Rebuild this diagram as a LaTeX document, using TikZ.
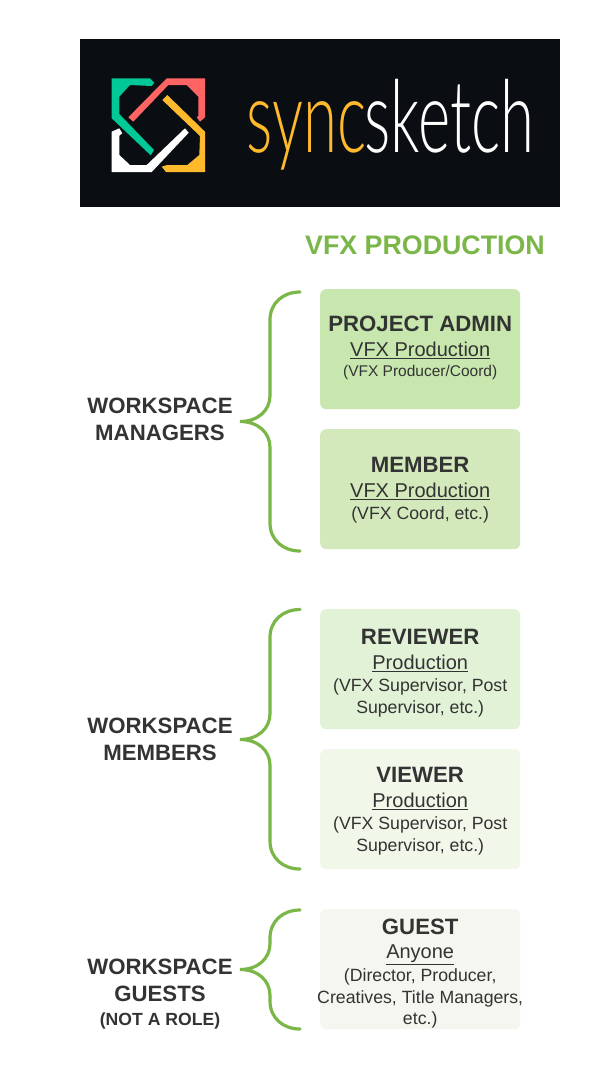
\documentclass[tikz,border=0pt]{standalone}
\usepackage{fontspec}
\usetikzlibrary{calc}
\setmainfont{Liberation Sans}
\newfontfamily\logofont{Lato Light}
\definecolor{ink}{HTML}{333333}
\definecolor{bracecol}{HTML}{7AB648}
\definecolor{logobg}{HTML}{0A0E12}
\definecolor{lgreen}{HTML}{00C896}
\definecolor{lred}{HTML}{FF6464}
\definecolor{lyellow}{HTML}{FFB92D}
\definecolor{boxa}{HTML}{C8E7AE}
\definecolor{boxb}{HTML}{D3E9BC}
\definecolor{boxc}{HTML}{E2F2D6}
\definecolor{boxd}{HTML}{F1F8EA}
\definecolor{boxe}{HTML}{F6F6F0}
\newcommand{\rttl}[1]{{\fontsize{22.2}{23}\selectfont\bfseries #1}}
\newcommand{\rsub}[1]{{\fontsize{20}{23}\selectfont\underline{#1}}}
\newcommand{\rdet}[2][17.7]{{\fontsize{#1}{23}\selectfont #2}}
\tikzset{
  rolebox/.style={rounded corners=6pt,minimum width=200pt,minimum height=120pt,inner sep=0pt,align=center,text=ink,anchor=north west,font=\fontsize{17.7}{23}\selectfont},
  grouplabel/.style={align=center,text=ink,anchor=base,font=\fontsize{22.2}{27}\selectfont\bfseries},
  bracket/.style={draw=bracecol,line width=3.2pt,line cap=round},
  logotext/.style={inner sep=0pt,anchor=base west,xscale=1.165,yscale=1.9,font=\fontsize{53}{53}\logofont},
}
\newcommand{\bracketpath}[3]{%
  \draw[bracket] (#1) .. controls ($(#1)+(-17,0)$) and ($(#1)+(-30,11)$) .. ($(#1)+(-30,28)$)
   -- ($(#2)+(30,-26)$) .. controls ($(#2)+(30,-11)$) and ($(#2)+(18,0)$) .. (#2)
   .. controls ($(#2)+(18,0)$) and ($(#2)+(30,11)$) .. ($(#2)+(30,26)$)
   -- ($(#3)+(-30,-28)$) .. controls ($(#3)+(-30,-11)$) and ($(#3)+(-17,0)$) .. (#3);}
\begin{document}
\begin{tikzpicture}[x=1pt,y=-1pt]
\useasboundingbox (0,0) rectangle (600,1080);
\fill[white] (0,0) rectangle (600,1080);
% logo
\fill[logobg] (80,39) rectangle (560,207);
\fill[lgreen] (111.7,78.3) -- (150,78.3) -- (154.3,82.7) -- (151.7,86) -- (130,85) -- (119.3,96.7) -- (119.3,114) -- (154,150) -- (150.7,155.3) -- (111.7,118.3) -- cycle;
\fill[lred] (205,78.3) -- (166.7,78.3) -- (128.3,117.3) -- (133.3,121.7) -- (168.3,85) -- (186.7,85) -- (198.3,96.7) -- (198.3,116) -- (196.7,117.3) -- (200,121.7) -- (205,117.3) -- cycle;
\fill[lyellow] (205,172) -- (205,131.7) -- (167.3,95) -- (162.3,100) -- (200,136) -- (199.3,155) -- (187.3,165) -- (167.3,165) -- (161.7,166.7) -- (166,172) -- cycle;
\fill[white] (111.7,131.7) -- (119.3,128.3) -- (122.3,133.3) -- (119.3,135.7) -- (119.3,155) -- (130,165) -- (146.7,165) -- (185,128.3) -- (188.7,132.7) -- (151.7,172) -- (111.7,172) -- cycle;
\node[logotext,text=lyellow] (logoa) at (246.5,152) {sync};
\node[logotext,text=white] (logob) at (364.5,152) {sketch};
% title
\node[text=bracecol,font=\fontsize{26.8}{30}\selectfont\bfseries] (title) at (425,245) {VFX PRODUCTION};
% role boxes
\node[rolebox,fill=boxa] (admin) at (320,289) {\rttl{PROJECT ADMIN}\\[2pt]\rsub{VFX Production}\\[-3pt]\rdet[15.5]{(VFX Producer/Coord)}\rule[-6pt]{0pt}{6pt}};
\node[rolebox,fill=boxb] (member) at (320,429) {\rule{0pt}{17pt}\rttl{MEMBER}\\[2pt]\rsub{VFX Production}\\[-1pt]\rdet{(VFX Coord, etc.)}};
\node[rolebox,fill=boxc] (reviewer) at (320,609) {\rule{0pt}{23pt}\rttl{REVIEWER}\\[2pt]\rsub{Production}\\[-1pt]\rdet{(VFX Supervisor, Post}\\[-1pt]\rdet{Supervisor, etc.)}};
\node[rolebox,fill=boxd] (viewer) at (320,749) {\rule{0pt}{19pt}\rttl{VIEWER}\\[2pt]\rsub{Production}\\[-1pt]\rdet{(VFX Supervisor, Post}\\[-1pt]\rdet{Supervisor, etc.)}};
\node[rolebox,fill=boxe] (guest) at (320,909) {\rule{0pt}{24pt}\rttl{GUEST}\\[1pt]\rsub{Anyone}\\\rdet{(Director, Producer,}\\[-1pt]\rdet{\makebox[200pt][c]{Creatives, Title Managers,}}\\[-2pt]\rdet{etc.)}};
% group labels
\node[grouplabel] (managers) at (160,440) {WORKSPACE\\MANAGERS};
\node[grouplabel] (members) at (160,760) {WORKSPACE\\MEMBERS};
\node[grouplabel] (guests) at (160,1025.5) {WORKSPACE\\GUESTS\\[-3pt]{\fontsize{17.6}{20}\selectfont (NOT A ROLE)}};
% brackets
\coordinate (ta) at (300,292); \coordinate (tipa) at (240,421.5); \coordinate (ba) at (300,551);
\coordinate (tb) at (300,609.5); \coordinate (tipb) at (240,739.5); \coordinate (bb) at (300,869);
\coordinate (tc) at (300,910); \coordinate (tipc) at (240,969.5); \coordinate (bc) at (300,1029);
\bracketpath{ta}{tipa}{ba}
\bracketpath{tb}{tipb}{bb}
\bracketpath{tc}{tipc}{bc}
\end{tikzpicture}
\end{document}
